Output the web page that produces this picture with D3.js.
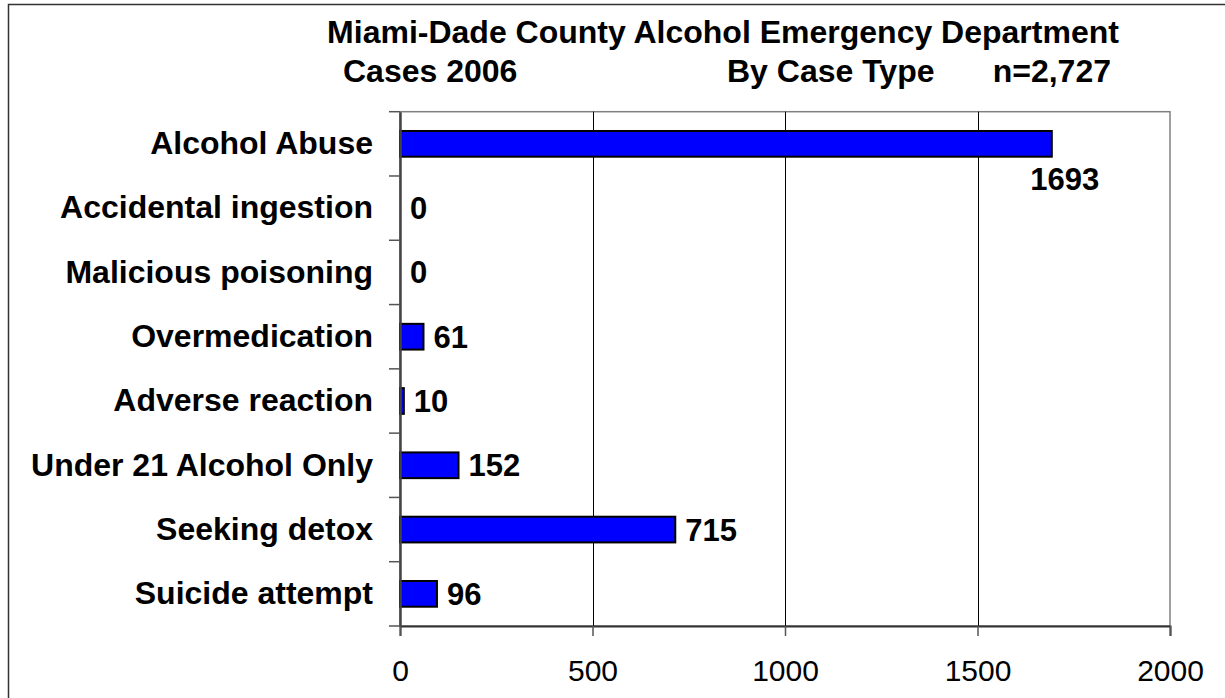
<!DOCTYPE html>
<html><head><meta charset="utf-8">
<script src="https://cdn.jsdelivr.net/npm/d3@7"></script>
<style>
html,body{margin:0;padding:0;background:#fff;}
svg{display:block;font-family:"Liberation Sans",Arial,sans-serif;}
</style></head>
<body>
<svg id="chart" width="1225" height="698"></svg>
<script>
const categories = ["Alcohol Abuse","Accidental ingestion","Malicious poisoning","Overmedication","Adverse reaction","Under 21 Alcohol Only","Seeking detox","Suicide attempt"];
const values = [1693, 0, 0, 61, 10, 152, 715, 96];
const xTicks = [0, 500, 1000, 1500, 2000];
const titleLine1 = "Miami-Dade County Alcohol Emergency Department";
const titleLine2 = ["Cases 2006", "By Case Type", "n=2,727"];

const svg = d3.select("#chart");
const m = {left: 400, right: 1170, top: 111.7, bottom: 626};
const FONT = "Liberation Sans, Arial, sans-serif";

// outer frame
svg.append("rect").attr("x", 8.5).attr("y", 4.5).attr("width", 1240).attr("height", 720)
  .attr("fill", "#fff").attr("stroke", "#333").attr("stroke-width", 1.5);

const x = d3.scaleLinear().domain([0, 2000]).range([m.left, m.right]);
const y = d3.scaleBand().domain(categories).range([m.top, m.bottom]).paddingInner(0).paddingOuter(0);
const barH = y.bandwidth() * 0.4;

// plot area border (top/right gray)
svg.append("rect").attr("x", m.left).attr("y", m.top).attr("width", m.right - m.left).attr("height", m.bottom - m.top)
  .attr("fill", "none").attr("stroke", "#808080").attr("stroke-width", 1.5);

// gridlines
svg.append("g").selectAll("line").data(xTicks.slice(1, -1)).join("line")
  .attr("x1", d => Math.round(x(d)) + 0.5).attr("x2", d => Math.round(x(d)) + 0.5)
  .attr("y1", m.top).attr("y2", m.bottom).attr("stroke", "#000").attr("stroke-width", 1);

// bars
svg.append("g").selectAll("rect").data(values).join("rect")
  .attr("x", x(0))
  .attr("y", (d, i) => y(categories[i]) + y.bandwidth() / 2 - barH / 2)
  .attr("width", d => x(d) - x(0))
  .attr("height", barH)
  .attr("fill", "#0000FF")
  .attr("stroke", d => d > 0 ? "#000" : "none")
  .attr("stroke-width", 2);

// x axis
const xAxis = d3.axisBottom(x).tickValues(xTicks).tickSize(10).tickPadding(24).tickFormat(d3.format("d"));
const gx = svg.append("g").attr("transform", `translate(0,${m.bottom})`).call(xAxis);
gx.select(".domain").attr("stroke", "#333").attr("stroke-width", 2);
gx.selectAll(".tick line").attr("stroke", "#555").attr("stroke-width", 1.5);
gx.selectAll(".tick text").attr("font-size", 30).attr("fill", "#000").attr("font-family", FONT);

// y axis
const yAxis = d3.axisLeft(y).tickSize(0).tickPadding(27);
const gy = svg.append("g").attr("transform", `translate(${m.left},0)`).call(yAxis);
gy.select(".domain").attr("stroke", "#444").attr("stroke-width", 2.5);
gy.selectAll(".tick text").attr("font-size", 32).attr("font-weight", "bold").attr("fill", "#000")
  .attr("font-family", FONT);
// category separator ticks
const sepPositions = d3.range(categories.length + 1).map(i => m.top + i * y.bandwidth());
svg.append("g").selectAll("line").data(sepPositions).join("line")
  .attr("x1", m.left - 11).attr("x2", m.left).attr("y1", d => d).attr("y2", d => d)
  .attr("stroke", "#555").attr("stroke-width", 1.5);

// value labels
svg.append("g").selectAll("text").data(values).join("text")
  .attr("x", (d, i) => i === 0 ? x(d) + 13 : x(d) + 10)
  .attr("y", (d, i) => y(categories[i]) + y.bandwidth() / 2 + (i === 0 ? 46 : 11))
  .attr("text-anchor", (d, i) => i === 0 ? "middle" : "start")
  .attr("font-size", 31).attr("font-weight", "bold").attr("fill", "#000")
  .text(d => d);

// title
const t = svg.append("g").attr("font-weight", "bold").attr("font-size", 32).attr("fill", "#000");
t.append("text").attr("x", 723).attr("y", 43).attr("text-anchor", "middle").text(titleLine1);
t.append("text").attr("x", 343).attr("y", 82).attr("text-anchor", "start").text(titleLine2[0]);
t.append("text").attr("x", 727).attr("y", 82).attr("text-anchor", "start").text(titleLine2[1]);
t.append("text").attr("x", 1111).attr("y", 82).attr("text-anchor", "end").text(titleLine2[2]);
</script>
</body></html>
